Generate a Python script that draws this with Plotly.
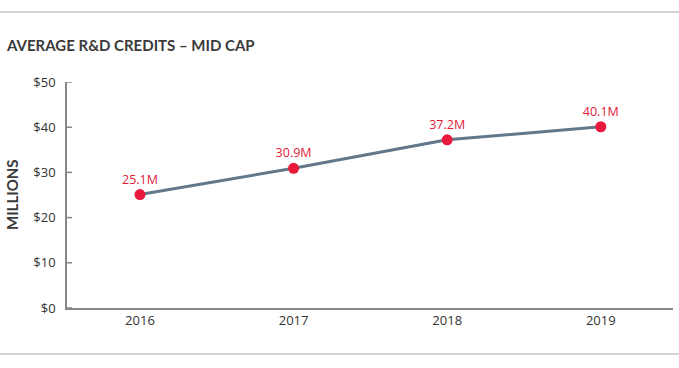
import plotly.graph_objects as go

years = ["2016", "2017", "2018", "2019"]
credits = [25.1, 30.9, 37.2, 40.1]
labels = ["25.1M", "30.9M", "37.2M", "40.1M"]
y_ticks = [0, 10, 20, 30, 40, 50]
y_tick_text = ["$0", "$10", "$20", "$30", "$40", "$50"]

W, H = 679, 368
L, R, T, B = 67, 6, 82, 60
pw, ph = W - L - R, H - T - B

fig = go.Figure()
fig.add_trace(go.Scatter(
    x=years, y=credits, mode="lines+markers+text",
    text=labels, textposition="top center",
    textfont=dict(color="#e31937", size=12.5, family="Open Sans"),
    line=dict(color="#627789", width=3),
    marker=dict(color="#e8193c", size=11),
    cliponaxis=False, showlegend=False,
))

def px_x(p):
    return (p - L) / pw

def px_y(p):
    return (H - B - p) / ph

for yy in (12, 354):
    fig.add_shape(type="line", xref="paper", yref="paper",
                  x0=px_x(0), x1=px_x(W), y0=px_y(yy), y1=px_y(yy),
                  line=dict(color="#d4d4d4", width=2))

# inside tick marks on the y axis, placed via the y axis scale
for v in y_ticks:
    fig.add_shape(type="line", xref="paper", yref="y",
                  x0=0, x1=5 / pw, y0=v, y1=v,
                  line=dict(color="#888888", width=1.5), layer="above")

fig.add_annotation(text="<b>AVERAGE R&amp;D CREDITS – MID CAP</b>", xref="paper", yref="paper",
                   x=px_x(4), y=px_y(45), xanchor="left", yanchor="middle",
                   showarrow=False, font=dict(family="Lato", size=15, color="#3a3a3a"))
fig.add_annotation(text="<b>MILLIONS</b>", xref="paper", yref="paper",
                   x=px_x(12), y=px_y(195), xanchor="center", yanchor="middle",
                   textangle=-90, showarrow=False,
                   font=dict(family="Lato", size=15, color="#3a3a3a"))

fig.update_layout(
    width=W, height=H, margin=dict(l=L, r=R, t=T, b=B),
    plot_bgcolor="white", paper_bgcolor="white",
    font=dict(family="Open Sans", size=13, color="#333333"),
)
fig.update_xaxes(type="category", range=[-0.475, 3.47], showline=True,
                 linecolor="#888888", linewidth=1.5, showgrid=False,
                 ticks="", tickfont=dict(size=13, color="#333333"))
fig.update_yaxes(range=[0, 50], tickvals=y_ticks, ticktext=y_tick_text,
                 showline=True, linecolor="#888888", linewidth=1.5,
                 showgrid=False, zeroline=False, ticks="", ticklabelstandoff=7,
                 tickfont=dict(size=13, color="#333333"))

fig.write_html("out.html", config={"displayModeBar": False},
               post_script="document.body.style.margin='0';")
